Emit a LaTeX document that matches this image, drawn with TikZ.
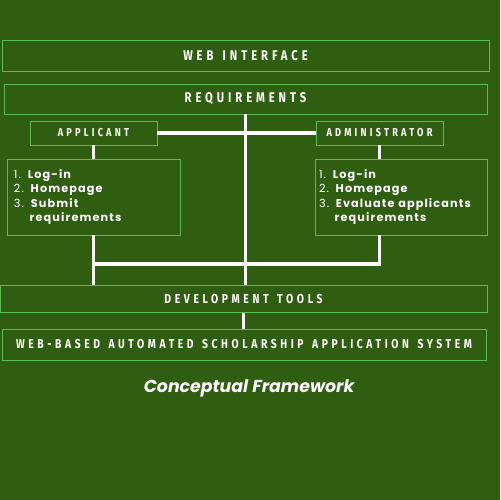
\documentclass[tikz,border=0pt]{standalone}
\usepackage{fontspec}
\setmainfont{Fira Sans}
\newfontfamily\headfont[LetterSpace=28, WordSpace=1.4, FakeStretch=0.8]{Fira Sans}
\newfontfamily\listfont[LetterSpace=10, WordSpace=2]{Poppins}
\newfontfamily\capfont{Poppins}
\usepackage{tikz}
\usetikzlibrary{positioning}

\definecolor{bggreen}{RGB}{48,94,17}
\definecolor{edgegreen}{RGB}{90,188,82}

\begin{document}
\begin{tikzpicture}[x=0.03cm, y=-0.03cm,
    box/.style={draw=edgegreen, line width=0.8pt, text=white, inner sep=0pt,
        font=\headfont\bfseries\fontsize{12}{13}\selectfont},
    userbox/.style={box, font=\headfont\bfseries\fontsize{9.8}{11}\selectfont},
    listbox/.style={draw=edgegreen, line width=0.8pt, text=white, inner ysep=0pt,
        align=left, font=\listfont\fontsize{9.6}{12.2}\selectfont},
    link/.style={draw=white, line width=2.6pt}]

        % parameters
        \def\px{0.03cm}

        % background
        \fill[bggreen] (0,0) rectangle (500,500);
        \useasboundingbox (0,0) rectangle (500,500);

        % full width blocks
        \node[box, minimum width=487*\px, minimum height=31*\px] (web) at (245.5,55.5) {WEB INTERFACE};
        \node[box, minimum width=483*\px, minimum height=30*\px] (req) at (245.5,99) {REQUIREMENTS};

        % the two users
        \node[userbox, minimum width=127*\px, minimum height=24*\px] (app) at (93.5,133) {APPLICANT};
        \node[userbox, minimum width=127*\px, minimum height=24*\px] (adm) at (379.5,133) {ADMINISTRATOR};

        \node[listbox, minimum width=173*\px, minimum height=76*\px, inner xsep=7*\px, text width=159*\px]
            (applist) at (93.5,197)
            {1. \textbf{Log-in}\\2. \textbf{Homepage}\\3. \textbf{Submit}\\\phantom{3. }\textbf{requirements}};
        \node[listbox, minimum width=172*\px, minimum height=76*\px, inner xsep=4*\px, text width=164*\px]
            (admlist) at (401,197)
            {1. \textbf{Log-in}\\2. \textbf{Homepage}\\\mbox{3. \textbf{Evaluate applicants}}\\\phantom{3. }\textbf{requirements}};

        \node[box, minimum width=487*\px, minimum height=27*\px, font=\headfont\bfseries\fontsize{11.1}{12}\selectfont]
            (dev) at (243.5,299) {DEVELOPMENT TOOLS};
        \node[box, minimum width=484*\px, minimum height=31*\px, font=\headfont\bfseries\fontsize{11}{12}\selectfont]
            (sys) at (244,344.5) {WEB-BASED AUTOMATED SCHOLARSHIP APPLICATION SYSTEM};

        % caption
        \node[text=white, font=\capfont\bfseries\itshape\fontsize{14.8}{17}\selectfont] (caption) at (249,388)
            {Conceptual Framework};

        % white connectors
        \draw[link] (app.east) -- (adm.west);
        \draw[link] (req.south) -- (req.south |- dev.north);
        \draw[link] (app.south) -- (applist.north -| app.south);
        \draw[link] (adm.south) -- (admlist.north -| adm.south);
        \draw[link] (applist.south) -- (applist.south |- dev.north);
        \draw[link] (applist.south |- 0,264) -- (adm.south |- 0,264) -- (adm.south |- admlist.south);
        \draw[link] (dev.south) -- (dev.south |- sys.north);

    \end{tikzpicture}
\end{document}
